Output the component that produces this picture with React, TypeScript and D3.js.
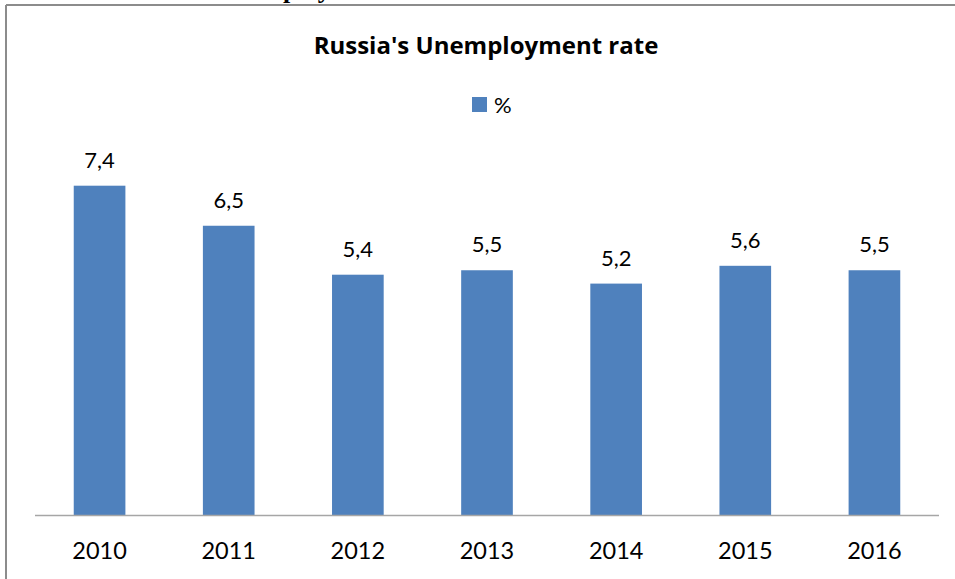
import React from "react";
import * as d3 from "d3";

const years = ["2010", "2011", "2012", "2013", "2014", "2015", "2016"];
const rates = [7.4, 6.5, 5.4, 5.5, 5.2, 5.6, 5.5];
const yDomain = [0, 8];
const title = "Russia's Unemployment rate";
const legendLabel = "%";

const W = 955;
const H = 579;
const FONT = "Lato, 'Open Sans', sans-serif";
const BAR = "#4F81BD";

export default function App() {
  const x = d3.scaleBand<string>().domain(years).range([35, 939]).paddingInner(0.6).paddingOuter(0.3);
  const y = d3.scaleLinear().domain(yDomain).range([515, 159]);
  const fmt = (v: number) => d3.format(".1f")(v).replace(".", ",");

  return (
    <svg width={W} height={H} style={{ position: "absolute", left: 0, top: 0, background: "#fff" }}>
      <rect x={0} y={0} width={W} height={H} fill="#fff" />
      <text x={283} y={-2} fontFamily="'Liberation Serif', serif" fontWeight="bold" fontSize={26} fill="#000">ploy</text>
      <line x1={6} y1={5} x2={W} y2={5} stroke="#8c8c8c" strokeWidth={2} />
      <line x1={6} y1={5} x2={6} y2={H} stroke="#8c8c8c" strokeWidth={2} />
      <text x={486} y={54} textAnchor="middle" fontFamily="'Open Sans', sans-serif" fontWeight="bold" fontSize={24} fill="#000">{title}</text>
      <rect x={472} y={97} width={15} height={15} fill={BAR} />
      <text x={494} y={113} fontFamily={FONT} fontSize={22} fill="#000">{legendLabel}</text>
      {years.map((yr, i) => (
        <g key={yr}>
          <rect x={x(yr)} y={y(rates[i])} width={x.bandwidth()} height={y(0) - y(rates[i])} fill={BAR} />
          <text x={(x(yr) as number) + x.bandwidth() / 2} y={y(rates[i]) - 18} textAnchor="middle" fontFamily={FONT} fontSize={22} fill="#000">{fmt(rates[i])}</text>
          <text x={(x(yr) as number) + x.bandwidth() / 2} y={559} textAnchor="middle" fontFamily={FONT} fontSize={23.5} fill="#000">{yr}</text>
        </g>
      ))}
      <line x1={35} y1={515.5} x2={939} y2={515.5} stroke="#a6a6a6" strokeWidth={1.5} />
    </svg>
  );
}
